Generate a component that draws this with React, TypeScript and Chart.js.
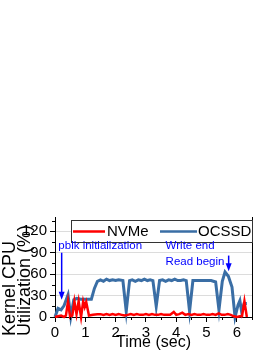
import React, { useEffect, useRef } from "react";
import { Chart, registerables } from "chart.js";

Chart.register(...registerables);

// ---- data ----
const seriesNames = ["NVMe", "OCSSD"];

const nvmeTimes = [0, 0.1, 0.2, 0.3, 0.36, 0.43, 0.5, 0.57, 0.64, 0.71, 0.78, 0.86, 0.93, 0.98, 1.03, 1.12, 1.25, 1.4, 1.5, 1.6, 1.7, 1.8, 1.9, 2.0, 2.1, 2.2, 2.3, 2.4, 2.5, 2.6, 2.7, 2.8, 2.9, 3.0, 3.1, 3.2, 3.3, 3.4, 3.5, 3.6, 3.7, 3.8, 3.92, 4.0, 4.1, 4.2, 4.3, 4.4, 4.5, 4.6, 4.7, 4.8, 4.9, 5.0, 5.1, 5.2, 5.3, 5.4, 5.5, 5.6, 5.7, 5.8, 5.9, 6.0, 6.1, 6.17, 6.25, 6.33];
const nvmeValues = [0, 1, 2, 0, 2, 22, 0, 2, 22, 4, 22, 0, 22, 14, 21, 2, 3, 4, 4, 3, 4, 3, 4, 3, 4, 3, 2, 3, 4, 3, 4, 3, 3, 4, 3, 4, 3, 3, 4, 3, 3, 3, 7, 3, 4, 6, 3, 4, 3, 4, 3, 3, 4, 3, 3, 4, 3, 5, 3, 3, 4, 3, 1, 0, 1, 1, 22, 0];

const ocssdTimes = [0, 0.1, 0.2, 0.3, 0.43, 0.52, 0.62, 0.72, 0.85, 1.0, 1.2, 1.3, 1.4, 1.5, 1.6, 1.7, 1.8, 1.9, 2.0, 2.1, 2.24, 2.35, 2.46, 2.55, 2.65, 2.75, 2.85, 2.95, 3.05, 3.14, 3.23, 3.34, 3.45, 3.55, 3.65, 3.75, 3.85, 3.95, 4.05, 4.15, 4.24, 4.33, 4.44, 4.55, 4.7, 4.85, 5.0, 5.15, 5.3, 5.41, 5.52, 5.61, 5.72, 5.84, 5.94, 6.04, 6.1, 6.16, 6.24, 6.33];
const ocssdValues = [0, 12, 10, 16, 31, 0, 24, 26, 25, 25, 25, 40, 50, 52, 50, 53, 51, 52, 51, 52, 51, 8, 51, 52, 50, 52, 51, 53, 51, 52, 51, 15, 51, 52, 50, 52, 51, 53, 51, 51, 52, 51, 8, 51, 51, 51, 51, 51, 49, 10, 50, 63, 57, 42, 0, 17, 23, 7, 19, 19];

const xTicks = [0, 1, 2, 3, 4, 5, 6];
const yTicks = [0, 30, 60, 90, 120];

const xTitle = "Time (sec)";
const yTitleLines = ["Kernel CPU", "Utilization (%)"];

// annotation texts (anchored in data coordinates)
const noteTexts = ["pblk initialization", "Write end", "Read begin"];
const noteX = [0.11, 3.65, 3.65];
const noteY = [95, 95, 72.5];
const arrowX = [0.22, 5.73];
const arrowFrom = [90, 86];
const arrowTo = [24, 64];

const FONT = '"Liberation Sans", Arial, Helvetica, sans-serif';
const RED = "#ff0000";
const BLUE = "#3a6ea5";
const NOTE = "#0000ff";

export default function App() {
  const ref = useRef<HTMLCanvasElement>(null);

  useEffect(() => {
    const canvas = ref.current;
    if (!canvas) return;

    const decor = {
      id: "decor",
      afterDatasetsDraw(chart: any) {
        const { ctx, chartArea: ca, scales } = chart;
        const x = scales.x;
        const y = scales.y;
        ctx.save();

        // right frame line
        ctx.strokeStyle = "#000";
        ctx.lineWidth = 1;
        ctx.beginPath();
        ctx.moveTo(Math.round(ca.right) + 0.5, ca.top);
        ctx.lineTo(Math.round(ca.right) + 0.5, ca.bottom);
        ctx.stroke();

        // minor ticks
        ctx.beginPath();
        for (let i = 0; i < yTicks.length; i++) {
          const v = yTicks[i] + (yTicks[1] - yTicks[0]) / 2;
          if (v > y.max) continue;
          const py = Math.round(y.getPixelForValue(v)) + 0.5;
          ctx.moveTo(ca.left - 3, py);
          ctx.lineTo(ca.left, py);
        }
        for (let i = 0; i < xTicks.length; i++) {
          const v = xTicks[i] + (xTicks[1] - xTicks[0]) / 2;
          if (v > x.max) continue;
          const px = Math.round(x.getPixelForValue(v)) + 0.5;
          ctx.moveTo(px, ca.bottom);
          ctx.lineTo(px, ca.bottom + 3);
        }
        ctx.stroke();

        // legend box
        const lx = ca.left + 16;
        const ly = ca.top + 3;
        const lw = ca.right - lx;
        const lh = 22;
        ctx.fillStyle = "#fff";
        ctx.fillRect(lx, ly, lw, lh);
        ctx.strokeStyle = "#333";
        ctx.lineWidth = 1;
        ctx.strokeRect(Math.round(lx) + 0.5, Math.round(ly) + 0.5, Math.round(lw), lh);
        const cy = ly + lh / 2 + 0.5;
        ctx.lineWidth = 2.5;
        ctx.strokeStyle = RED;
        ctx.beginPath();
        ctx.moveTo(lx + 2, cy);
        ctx.lineTo(lx + 34, cy);
        ctx.stroke();
        ctx.strokeStyle = BLUE;
        ctx.beginPath();
        ctx.moveTo(lx + 89, cy);
        ctx.lineTo(lx + 126, cy);
        ctx.stroke();
        ctx.fillStyle = "#000";
        ctx.font = `15px ${FONT}`;
        ctx.textAlign = "left";
        ctx.textBaseline = "middle";
        ctx.fillText(seriesNames[0], lx + 36, cy + 0.5);
        ctx.fillText(seriesNames[1], lx + 127, cy + 0.5);

        // annotations
        ctx.fillStyle = NOTE;
        ctx.font = `11.5px ${FONT}`;
        ctx.textBaseline = "alphabetic";
        for (let i = 0; i < noteTexts.length; i++) {
          ctx.fillText(noteTexts[i], x.getPixelForValue(noteX[i]), y.getPixelForValue(noteY[i]));
        }
        ctx.strokeStyle = NOTE;
        ctx.lineWidth = 1.5;
        for (let i = 0; i < arrowX.length; i++) {
          const ax = x.getPixelForValue(arrowX[i]);
          const y1 = y.getPixelForValue(arrowFrom[i]);
          const y2 = y.getPixelForValue(arrowTo[i]);
          ctx.beginPath();
          ctx.moveTo(ax, y1);
          ctx.lineTo(ax, y2 - 6);
          ctx.stroke();
          ctx.beginPath();
          ctx.moveTo(ax - 3, y2 - 8);
          ctx.lineTo(ax + 3, y2 - 8);
          ctx.lineTo(ax, y2);
          ctx.closePath();
          ctx.fill();
        }

        // axis titles
        ctx.fillStyle = "#000";
        ctx.font = `16px ${FONT}`;
        ctx.textAlign = "center";
        ctx.textBaseline = "alphabetic";
        ctx.fillText(xTitle, (ca.left + ca.right) / 2, 347);

        ctx.font = `18px ${FONT}`;
        ctx.textAlign = "left";
        const baseX = [15, 30];
        for (let i = 0; i < yTitleLines.length; i++) {
          ctx.save();
          ctx.translate(baseX[i], 336);
          ctx.rotate(-Math.PI / 2);
          ctx.fillText(yTitleLines[i], 0, 0);
          ctx.restore();
        }

        ctx.restore();
      },
    };

    const chart = new Chart(canvas, {
      type: "line",
      data: {
        datasets: [
          {
            label: seriesNames[0],
            data: nvmeTimes.map((t, i) => ({ x: t, y: nvmeValues[i] })),
            borderColor: RED,
            backgroundColor: RED,
            borderWidth: 2.5,
            pointRadius: 0,
            tension: 0,
            fill: false,
            clip: false,
          },
          {
            label: seriesNames[1],
            data: ocssdTimes.map((t, i) => ({ x: t, y: ocssdValues[i] })),
            borderColor: BLUE,
            backgroundColor: BLUE,
            borderWidth: 3,
            pointRadius: 0,
            tension: 0,
            fill: false,
            clip: false,
          },
        ],
      },
      options: {
        responsive: false,
        animation: false,
        devicePixelRatio: 1,
        layout: { padding: { top: 217, right: 22, left: 0, bottom: 0 } },
        plugins: {
          legend: { display: false },
          title: { display: false },
          tooltip: { enabled: false },
        },
        scales: {
          x: {
            type: "linear",
            min: 0,
            max: 6.5,
            afterFit: (s: any) => {
              s.height = 38;
            },
            afterBuildTicks: (s: any) => {
              s.ticks = xTicks.map((v) => ({ value: v }));
            },
            ticks: {
              color: "#000",
              font: { family: FONT, size: 15 },
              padding: 2,
              maxRotation: 0,
              autoSkip: false,
            },
            grid: {
              drawOnChartArea: false,
              drawTicks: true,
              tickLength: 5,
              tickColor: "#000",
              tickWidth: 1,
            },
            border: { display: true, color: "#000", width: 1 },
          },
          y: {
            type: "linear",
            min: 0,
            max: 140,
            afterFit: (s: any) => {
              s.width = 55;
            },
            afterBuildTicks: (s: any) => {
              s.ticks = yTicks.map((v) => ({ value: v }));
            },
            ticks: {
              color: "#000",
              font: { family: FONT, size: 15 },
              padding: 3,
              autoSkip: false,
            },
            grid: {
              color: (c: any) => (c.tick && c.tick.value === 0 ? "rgba(0,0,0,0)" : "#dcdcdc"),
              lineWidth: 1,
              drawTicks: true,
              tickLength: 5,
              tickColor: "#000",
              tickWidth: 1,
            },
            border: { display: true, color: "#000", width: 1 },
          },
        },
      },
      plugins: [decor],
    });

    return () => chart.destroy();
  }, []);

  return (
    <div style={{ position: "fixed", left: 0, top: 0, width: 274, height: 355, background: "#fff" }}>
      <canvas ref={ref} width={274} height={355} style={{ display: "block", width: 274, height: 355 }} />
    </div>
  );
}
